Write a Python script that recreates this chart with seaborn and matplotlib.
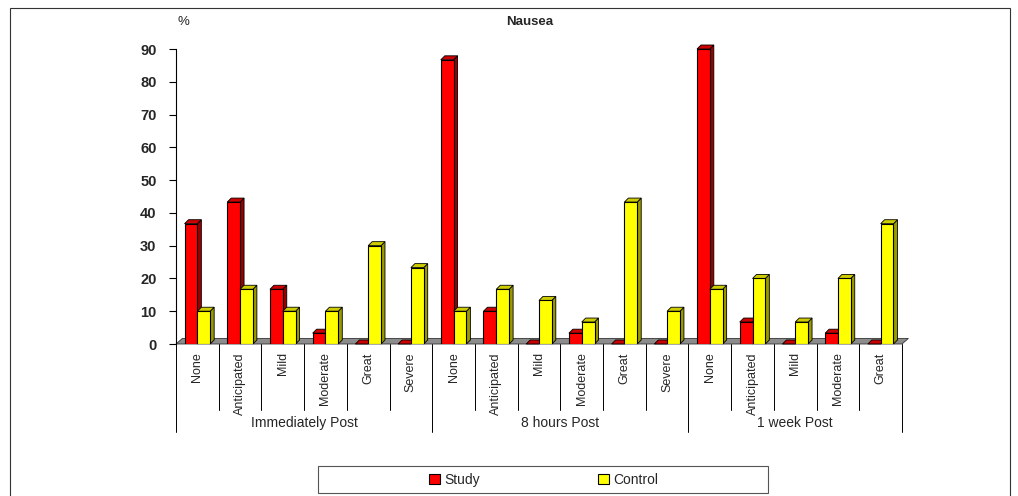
import numpy as np
import pandas as pd
import matplotlib
matplotlib.use("Agg")
import matplotlib.pyplot as plt
from matplotlib.patches import Polygon, Patch, Rectangle
import seaborn as sns

# ---- data ----
groups = ["Immediately Post", "8 hours Post", "1 week Post"]
severity_immediate = ["None", "Anticipated", "Mild", "Moderate", "Great", "Severe"]
severity_8h = ["None", "Anticipated", "Mild", "Moderate", "Great", "Severe"]
severity_1w = ["None", "Anticipated", "Mild", "Moderate", "Great"]
study = [36.7, 43.3, 16.7, 3.3, 0, 0,
         86.7, 10.0, 0, 3.3, 0, 0,
         90.0, 6.7, 0, 3.3, 0]
control = [10.0, 16.7, 10.0, 10.0, 30.0, 23.3,
           10.0, 16.7, 13.3, 6.7, 43.3, 10.0,
           16.7, 20.0, 6.7, 20.0, 36.7]
series = ["Study", "Control"]
yticks = [0, 10, 20, 30, 40, 50, 60, 70, 80, 90]

sns.set_theme(style="white")
plt.rcParams['font.family'] = ['Liberation Sans', 'DejaVu Sans']

labels = severity_immediate + severity_8h + severity_1w
group_sizes = [len(severity_immediate), len(severity_8h), len(severity_1w)]
n = len(labels)

df = pd.DataFrame({
    "pos": list(range(n)) * 2,
    "value": study + control,
    "Group": [series[0]] * n + [series[1]] * n,
})

W, H = 1018, 496
fig = plt.figure(figsize=(W / 100, H / 100), dpi=100)
ax = fig.add_axes([176 / W, (H - 344) / H, (902 - 176) / W, (344 - 49) / H])

front = {"Study": "#FF0000", "Control": "#FFFF00"}
side = {"Study": "#990000", "Control": "#999900"}
top = {"Study": "#CC0000", "Control": "#CCCC00"}

sns.barplot(data=df, x="pos", y="value", hue="Group", hue_order=series,
            palette=front, width=0.6, saturation=1, edgecolor="black",
            linewidth=0.8, legend=False, ax=ax)

ax.set_xlim(-0.5, n - 0.5)
ax.set_ylim(0, 90)

# 3D depth in data units
dx = 4.0 / ((902 - 176) / n)
dy = 4.0 / ((344 - 49) / 90)

# floor
floor = Polygon([(-0.5, 0), (n - 0.5, 0), (n - 0.5 + dx * 1.6, dy * 1.4), (-0.5 + dx * 1.6, dy * 1.4)],
                closed=True, facecolor="#8C8C8C", edgecolor="#333333", linewidth=0.6,
                zorder=1, clip_on=False)
ax.add_patch(floor)

bars = sorted([p for p in ax.patches if isinstance(p, Rectangle)], key=lambda p: p.get_x())
rgb_study = matplotlib.colors.to_rgb(front["Study"])
for i, p in enumerate(bars):
    x0, w, h = p.get_x(), p.get_width(), p.get_height()
    key = "Study" if np.allclose(p.get_facecolor()[:3], rgb_study) else "Control"
    z = 2 + i * 0.01
    p.set_zorder(z + 0.005)
    side_poly = Polygon([(x0 + w, 0), (x0 + w + dx, dy), (x0 + w + dx, h + dy), (x0 + w, h)],
                        closed=True, facecolor=side[key], edgecolor="black", linewidth=0.6,
                        zorder=z, clip_on=False)
    top_poly = Polygon([(x0, h), (x0 + w, h), (x0 + w + dx, h + dy), (x0 + dx, h + dy)],
                       closed=True, facecolor=top[key], edgecolor="black", linewidth=0.6,
                       zorder=z, clip_on=False)
    ax.add_patch(side_poly)
    ax.add_patch(top_poly)

# axes styling
for s in ["top", "right", "bottom"]:
    ax.spines[s].set_visible(False)
ax.spines["left"].set_color("black")
ax.spines["left"].set_linewidth(0.8)
ax.set_yticks(yticks)
ax.set_yticklabels([str(v) for v in yticks], fontsize=10.5, fontweight="bold")
ax.tick_params(axis="y", which="both", left=True, length=5, width=0.8, color="black", pad=9)
ax.set_xticks(range(n))
ax.set_xticklabels(labels, rotation=90, fontsize=9, va="top")
ax.tick_params(axis="x", length=0, pad=6)
ax.set_xlabel("")
ax.set_ylabel("")
ax.grid(False)

# category separators and group labels
trans = ax.get_xaxis_transform()
y_sep = -(410 - 344) / (344 - 49)
y_grp = -(432 - 344) / (344 - 49)
y_glab = -(423 - 344) / (344 - 49)
boundaries = np.cumsum([0] + group_sizes)
for k in range(n + 1):
    xb = k - 0.5
    y_end = y_grp if k in boundaries else y_sep
    ax.plot([xb, xb], [0, y_end], transform=trans, color="black", lw=0.7, clip_on=False)
for g, name in enumerate(groups):
    cx = (boundaries[g] + boundaries[g + 1]) / 2 - 0.5
    ax.text(cx, y_glab, name, transform=trans, ha="center", va="center", fontsize=10)

# titles
fig.text(530 / W, 1 - 22 / H, "Nausea", ha="center", va="center", fontsize=9.5, fontweight="bold")
fig.text(183 / W, 1 - 22 / H, "%", ha="center", va="center", fontsize=9.5)

# legend (frameless entries + separate box)
handles = [Patch(facecolor=front[s], edgecolor="black", linewidth=0.8) for s in series]
leg = fig.legend(handles, series, loc="center", bbox_to_anchor=(544 / W, 1 - 480 / H),
                 ncol=2, frameon=False, fontsize=10,
                 handlelength=0.8, handleheight=0.7, handletextpad=0.3,
                 columnspacing=8.5, borderpad=0.3)
box = Rectangle((318 / W, 1 - 493 / H), (768 - 318) / W, (493 - 466) / H,
                transform=fig.transFigure, fill=False, edgecolor="#555555", linewidth=0.8)
fig.patches.append(box)

# outer frame
frame = Rectangle((10 / W, -0.02), (1010 - 10) / W, (H - 8) / H + 0.02, transform=fig.transFigure,
                  fill=False, edgecolor="#333333", linewidth=0.8)
fig.patches.append(frame)

fig.savefig("out.png", dpi=100)
